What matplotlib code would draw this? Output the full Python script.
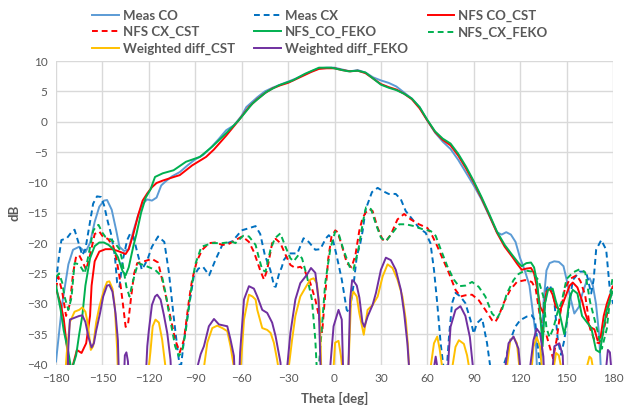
import matplotlib
matplotlib.use("Agg")
import matplotlib.pyplot as plt

# ---------------- data (theta [deg], dB) ----------------
meas_co = [(-180,-39.5),(-176,-30),(-172,-23.5),(-169,-21.1),(-165,-20.6),(-161,-21.5),(-158,-20),(-155,-16.5),
           (-152,-14),(-149,-13),(-147,-12.9),(-144,-14.5),(-141,-18),(-139,-20.6),(-136,-21.3),(-133,-21),(-130,-18),
           (-127,-15.5),(-124,-13.5),(-121,-12.8),(-118,-13.0),(-115,-12.5),(-112,-10.5),(-109,-9.8),(-105,-9.0),
           (-100,-8.3),(-95,-7.2),(-90,-6.2),(-85,-5.5),(-80,-4.3),(-75,-2.9),(-70,-1.4),(-65,-0.6),(-60,1.0),
           (-57,2.4),(-50,4.0),(-45,5.0),(-40,5.6),(-35,6.1),(-30,6.6),(-25,7.1),(-20,7.7),(-15,8.3),(-10,8.8),
           (-5,8.9),(0,8.9),(5,8.6),(10,8.3),(15,8.5),(20,8.1),(25,7.3),(30,6.8),(35,6.4),(40,5.8),(45,4.8),(50,3.8),
           (55,2.4),(60,0.2),(65,-1.8),(70,-3.3),(75,-4.5),(80,-6.3),(85,-8.4),(90,-10.5),(95,-12.8),(100,-15.5),
           (105,-18.2),(108,-18.6),(111,-18.2),(114,-18.6),(117,-19.8),(120,-22.5),(123,-24.5),(126,-27),(128,-31),
           (130,-35),(131.5,-45),(133,-45),(135,-30),(137,-24.5),(139,-23.3),(142,-23),(145,-23.1),(148,-23.8),
           (150,-26),(152,-28.5),(155,-31.6),(158,-30.5),(160,-28.5),(163,-26.2),(165,-25.8),(167,-27),(169,-30),
           (171,-35),(173,-45),(180,-45)]

meas_cx = [(-180,-26.4),(-178,-22),(-176.5,-19.5),(-173,-19.2),(-170,-18.2),(-168,-17.8),(-166,-19.5),(-163,-22),
           (-161,-21),(-158,-16.5),(-156,-13.5),(-153.5,-12.3),(-151,-12.4),(-149,-13.7),(-146.5,-16.5),(-144.5,-18.4),
           (-142,-22),(-140.5,-26.5),(-139,-27.2),(-137,-23),(-134,-19.5),(-132,-18.4),(-130,-18.9),(-127.5,-21.5),
           (-124.5,-24.4),(-121,-22.8),(-118,-20.6),(-114,-18.9),(-110,-19.8),(-107,-24.9),(-104,-32),(-101,-38.5),
           (-99.5,-41),(-97.5,-36.4),(-94,-30.4),(-91,-25.5),(-88,-24.2),(-85,-23.9),(-81,-25.3),(-77,-22.8),
           (-72.5,-20.3),(-66,-19.7),(-60,-17.9),(-56,-17.6),(-51,-17.2),(-48,-18.5),(-45,-22),(-41.5,-24.4),
           (-39,-27.1),(-38,-27.2),(-36,-25.2),(-34,-23.9),(-32.8,-22.8),(-29.6,-21.7),(-24,-21.7),(-20,-19.2),
           (-16.7,-19.8),(-12.4,-21.1),(-9.2,-21),(-5.5,-19.2),(-3.7,-18.7),(-1,-19.5),(1.5,-22.2),(4.7,-26),
           (7.9,-31),(9.6,-31.5),(12.2,-27.1),(14.4,-22.2),(16.7,-20),(18.2,-18),(20,-14.6),(21.5,-13.5),(24.2,-11.6),
           (27.9,-10.9),(31,-11.4),(35,-11.9),(39.6,-11.9),(42.9,-12.8),(46,-14.7),(50.4,-16.1),(54.6,-17.5),
           (58.9,-18.3),(62,-20),(64.3,-24.4),(66.4,-29.9),(68.6,-36.5),(70.7,-41),(72.5,-41),(74,-35.4),(76,-29.9),
           (78.2,-28.2),(81.4,-28.8),(84.6,-29.9),(87.9,-32.7),(90,-34.9),(92,-33.2),(95.4,-32.4),(98.6,-36.5),
           (101,-41),(108,-41),(110.4,-39.3),(113.6,-36),(116.8,-33.8),(120,-32.7),(124.3,-32.1),(127.5,-31.9),
           (129.6,-32.7),(131,-36),(133,-41),(135,-33),(137,-27.5),(139,-26.9),(141,-28),(142,-29.4),(144.3,-35.9),
           (146.4,-38.4),(148.5,-36),(150.7,-32.1),(154,-26.1),(158.3,-24.7),(162.6,-24.7),(165.9,-28.3),(167.5,-26),
           (169.1,-21.1),(172.4,-19.5),(175.6,-21.1),(177.8,-27.2),(180,-30)]

nfs_co_cst = [(-180,-27.5),(-177,-30),(-175,-32.5),(-173,-37),(-171,-41),(-169,-40),(-166.5,-37.6),(-163.5,-38.1),
              (-160.5,-36.5),(-158,-32),(-157,-27),(-155,-23),(-152,-21.4),(-148,-21),(-144,-21),(-140,-21.3),
              (-137,-21.6),(-135,-21.8),(-133,-21),(-130,-18.5),(-127,-15.5),(-124,-13),(-121,-11.8),(-118,-10.8),
              (-115,-10.1),(-111,-9.7),(-105,-9.2),(-100,-8.8),(-92,-7.2),(-83,-5.8),(-78,-4.6),(-70,-2.3),(-62,0.2),
              (-55,2.5),(-50,3.7),(-45,4.7),(-40,5.5),(-35,6.0),(-30,6.4),(-25,7.0),(-20,7.6),(-15,8.2),(-10,8.7),
              (-5,8.8),(0,8.8),(5,8.5),(10,8.3),(15,8.4),(20,8.0),(25,7.1),(30,6.2),(35,5.7),(40,5.3),(45,4.6),
              (50,3.7),(55,2.2),(60,0.2),(65,-1.7),(70,-3.0),(75,-3.9),(80,-5.6),(85,-7.7),(90,-10),(95,-12.6),
              (100,-15.4),(105,-18.3),(110,-20.6),(115,-22.3),(118,-23.4),(121,-24.4),(124,-24.2),(127,-24.1),
              (129,-25),(131,-27.5),(133,-30.5),(135,-31.5),(137,-28),(139,-27.5),(141,-28.5),(143,-30.5),(146,-31),
              (149,-29),(152,-27),(154,-26.5),(157,-27.3),(160,-29.5),(162,-31.5),(165,-33.8),(168,-34.2),(170,-36),
              (172,-35.5),(174,-32),(176,-30),(178,-28.5),(180,-28)]

nfs_cx_cst = [(-180,-27.5),(-178.5,-25.5),(-176,-28),(-173.5,-32),(-171,-30),(-169,-25),(-167,-22.2),(-165,-22),
              (-163,-23),(-160.5,-24.4),(-158,-22),(-155,-18.5),(-152,-18.1),(-149.5,-19),(-146.5,-19.3),(-143,-20.5),
              (-141,-22.5),(-139,-25.5),(-137,-29.5),(-135,-33.8),(-133.5,-33.5),(-131.5,-29),(-129.5,-25),
              (-127.5,-23.3),(-123,-23),(-118,-22.6),(-114,-23.2),(-111.4,-26),(-107,-31),(-103,-35.9),(-100,-38),
              (-97.3,-35.9),(-94,-29.3),(-92,-26),(-89,-23),(-85.5,-21.1),(-81,-20),(-77,-19.9),(-72.5,-20.3),
              (-68,-20.1),(-64,-19.5),(-59.6,-18.9),(-55.3,-19.8),(-52,-21.5),(-48,-24.5),(-45.6,-26),(-43.5,-24.4),
              (-40.3,-20),(-38,-19.3),(-35,-20),(-31.7,-21.9),(-28.5,-23.6),(-25.3,-24.1),(-22,-23.9),(-19,-24.7),
              (-15.6,-26.6),(-12.4,-29.3),(-9.2,-33.1),(-8,-34.8),(-6.5,-30),(-4,-22.5),(-2,-19),(0.5,-17.9),(2,-18.2),
              (4.5,-20.2),(8,-23.3),(11,-24),(13.5,-22),(16,-18),(18,-16),(20,-15),(22.5,-14.4),(24.6,-14.7),
              (27.9,-17.5),(31,-19.4),(33.2,-19.7),(36.4,-18.6),(40.7,-16.1),(45,-15.2),(49.3,-16.1),(54.6,-16.9),
              (60,-17.5),(63.2,-18.8),(66.4,-20.5),(69.6,-22.4),(73.9,-24.9),(78.2,-27.7),(81.4,-28.8),(84.6,-28.6),
              (88.9,-28.5),(93.2,-29.4),(97.5,-31),(101.8,-32.7),(103.9,-33),(106,-32.1),(109.3,-29.9),(113.6,-27.7),
              (117.9,-26.4),(123.2,-26.1),(127.5,-26.4),(130,-27.5),(132.7,-31.9),(135,-34.5),(137,-35.2),(139,-37),
              (141.3,-39),(143.5,-36),(145.7,-31.9),(148.9,-27.5),(152.2,-25.9),(156.5,-25.3),(159,-26.3),(162,-28.6),
              (165.2,-34.1),(168.5,-36.3),(171,-36.5),(173.5,-35),(176,-31.9),(179.3,-27.5),(180,-27)]

nfs_co_feko = [(-180,-27),(-177,-31),(-175,-34.4),(-172,-38),(-170,-41),(-167,-38.5),(-165,-35),(-163,-32),
               (-161,-27),(-158,-22.5),(-155,-20.5),(-152,-19.9),(-149,-19.9),(-146,-20.3),(-143,-21),(-140,-22.3),
               (-137,-24.6),(-135,-25.3),(-133,-24),(-130,-20.5),(-128,-18.5),(-125,-15),(-122,-12.5),(-119,-11.2),
               (-116,-9.1),(-111,-8.5),(-104,-8.0),(-96,-6.6),(-87,-5.8),(-79,-4.1),(-70,-1.9),(-62,0.2),(-53,3.0),
               (-44,4.9),(-36,6.0),(-27,6.8),(-19,7.9),(-10,8.9),(-2,8.9),(5,8.5),(9,8.3),(15,8.4),(20,8.1),(25,7.1),
               (30,6.1),(35,5.6),(40,5.2),(45,4.6),(50,3.8),(55,2.4),(60,0.3),(65,-1.6),(70,-2.8),(75,-3.6),(80,-5.3),
               (85,-7.4),(90,-9.8),(95,-12.4),(100,-15.2),(105,-18.1),(110,-20.3),(115,-22),(119,-23.3),(121,-23.8),
               (124,-23.3),(127,-23.2),(129,-24),(131,-26.5),(133,-32),(134.5,-37),(136,-30),(138,-27.7),(141,-27.5),
               (143,-29.5),(145.5,-31.6),(148.5,-35),(150,-33),(152,-29),(154,-27.7),(157,-28.3),(160,-32),(163,-33),
               (166,-34),(169,-37.6),(171.5,-38),(174,-34),(176,-31),(179,-28.5),(180,-28)]

nfs_cx_feko = [(-180,-25.6),(-178,-25),(-176,-26.5),(-174.5,-28.8),(-172,-31),(-170,-29),(-168,-23.3),(-165,-23.5),
               (-161.4,-25),(-159,-22),(-156,-18),(-154,-17.2),(-152.5,-17),(-150,-18.3),(-148,-19),(-144,-19.5),
               (-141,-20.3),(-139,-21),(-137.5,-22.5),(-134.5,-27.2),(-132.5,-28.8),(-130.5,-26.5),(-127,-23.3),
               (-122.5,-23.7),(-116,-24.4),(-111.5,-25.5),(-109,-28.5),(-107,-31.5),(-103,-37),(-100.6,-38.6),
               (-98.5,-37.8),(-96.3,-34.8),(-93,-28.2),(-90,-23.5),(-86,-20.6),(-79,-20),(-72.5,-20),(-66,-19.8),
               (-64,-20),(-59,-18.8),(-55.3,-18.9),(-51,-20.3),(-48.8,-22.5),(-46.7,-24.4),(-44.6,-24.7),(-41.4,-21.1),
               (-38.5,-19.2),(-35,-18.4),(-31.7,-20.6),(-28.5,-22.5),(-26.4,-23),(-23.1,-21.9),(-21,-22.5),(-17.8,-25.5),
               (-14.6,-29.3),(-12.4,-35.9),(-11.4,-41),(-10.3,-41),(-8.1,-33.7),(-6,-26.6),(-2.8,-21.1),(0.4,-18.1),
               (2.6,-18.4),(5.8,-21.1),(10.1,-24.1),(12.2,-24.4),(15.4,-21.1),(18.6,-16.2),(20.4,-14.1),(23.6,-14.4),
               (26.8,-16.9),(30,-19.1),(33.2,-19.7),(37.5,-18.3),(41.8,-16.9),(46.1,-16.9),(51.4,-17.2),(56.8,-17.7),
               (62.1,-18),(65.4,-18.8),(68.6,-21),(72.9,-23.8),(77.1,-26),(80.4,-27.1),(84.6,-27),(88.9,-26.4),
               (93.2,-27.2),(97.5,-28.8),(101.8,-31.6),(105,-32.4),(108.2,-31),(111.4,-28.3),(115.7,-26.1),
               (118.9,-25.1),(123.2,-24.5),(127.5,-24.7),(131.8,-26.1),(135,-28.8),(137,-34),(139,-35.5),(141.5,-34),
               (144,-31.5),(146.8,-29.7),(150,-25.9),(154.4,-24.8),(158.5,-24.3),(162,-24.8),(165.2,-29.7),
               (169.6,-34.1),(172.8,-37.4),(176,-34.1),(179.3,-26.4),(180,-25.5)]

wdiff_cst = [(-180,-45),(-175,-45),(-173,-38),(-171,-33),(-168,-31.3),(-165,-31),(-163,-30.6),(-161,-31.3),
             (-159.5,-33.2),(-157.5,-37.6),(-156,-37),(-154,-33),(-152,-30.5),(-149,-27.7),(-147,-26.4),(-145.5,-26.3),
             (-143.5,-27.5),(-142,-30.5),(-140.5,-37.4),(-139.5,-45),(-122,-45),(-119,-38),(-117.5,-33.7),(-115.7,-32.6),
             (-113.5,-33.1),(-111.4,-35.9),(-109.2,-40.5),(-108,-45),(-86,-45),(-84.4,-40.5),(-82.2,-36.4),(-79,-34),
             (-75.8,-33.6),(-72.5,-34),(-69.3,-34.5),(-67.2,-37),(-65,-40.5),(-64,-45),(-61.5,-45),(-60.6,-40.5),
             (-58.5,-32.6),(-55.3,-28.5),(-53,-28.8),(-51,-29.3),(-49.9,-31),(-46.7,-34),(-43.5,-34.3),(-41.3,-34.8),
             (-39.2,-36.4),(-37.1,-39.2),(-36,-41),(-35,-45),(-31,-45),(-29.6,-40.5),(-27.4,-35.9),(-25.3,-32),
             (-22.1,-28.8),(-18.9,-27.4),(-15.6,-26),(-13.5,-25.8),(-11.4,-26.6),(-9.6,-31),(-8.6,-40.5),(-8,-45),
             (-1.5,-45),(-0.6,-40.5),(0.4,-36.4),(2.6,-36.1),(4.1,-38.5),(5,-40.5),(6,-45),(8,-45),(9,-40.5),
             (10.7,-29.3),(12.2,-28),(14.4,-28.8),(16,-31.5),(18.9,-35.1),(21.4,-31),(24.6,-30.2),(27.9,-28.8),
             (31.1,-25.5),(34.3,-23.5),(37.5,-24.1),(40.7,-26),(43.9,-28.8),(46.1,-32.7),(47.5,-37),(48.2,-40.5),
             (49,-45),(61,-45),(62.1,-40.5),(64.3,-36.5),(66.4,-35.4),(68,-37.5),(69.6,-40.5),(70.5,-45),(75,-45),
             (76.1,-40.5),(78.2,-37.1),(80.4,-36),(83.6,-36.6),(85.7,-38.5),(87,-40.5),(88,-45),(110,-45),
             (111.4,-40.5),(113.6,-36),(115.7,-35.5),(117.9,-36.5),(119.5,-40.5),(120.5,-45),(126.5,-45),
             (127.5,-40.5),(128.6,-37.1),(130.7,-35.5),(132.9,-37.1),(134,-40.5),(135,-45),(141,-45),(142,-40),
             (143.2,-38.1),(145,-38.5),(146.5,-40.5),(147.5,-45),(162.5,-45),(163.5,-40),(164.8,-38.7),(166,-39),
             (167,-40.5),(168,-45),(180,-45)]

wdiff_feko = [(-180,-45),(-173,-45),(-172,-37),(-171,-32.6),(-168,-32.3),(-165,-32),(-163,-31.9),(-161,-33),
              (-159,-35.5),(-157,-37.2),(-155.5,-36.5),(-154,-34.4),(-151.5,-31.5),(-149.5,-28.8),(-147,-27),
              (-145.5,-26.9),(-143.5,-28),(-141.5,-31.6),(-140,-36),(-139,-45),(-136.5,-45),(-135.5,-38.5),
              (-134.5,-38),(-133.5,-39.5),(-132.5,-45),(-122.5,-45),(-121,-37),(-120,-34.4),(-118,-30.2),(-116,-28.8),
              (-114.6,-28.5),(-112.4,-29.3),(-110.3,-31.8),(-108.1,-34.8),(-106,-39.2),(-105,-45),(-89.5,-45),
              (-88.7,-40.5),(-86.5,-38.3),(-84.4,-37),(-81.2,-33.7),(-77.9,-32.5),(-74.7,-33.4),(-69.3,-33.7),
              (-67.2,-35.9),(-65,-38.6),(-64,-45),(-62,-45),(-61,-38),(-58.5,-29.3),(-55.3,-27.1),(-52.1,-27.5),
              (-49.9,-28.8),(-46.7,-31),(-43.5,-31.5),(-40.3,-33.1),(-38.1,-35.3),(-34.9,-39.7),(-34,-45),
              (-31.5,-45),(-30.6,-40.5),(-28.5,-34.8),(-25.3,-29.3),(-22.1,-26.6),(-17.8,-25.2),(-15.2,-24.1),
              (-12.4,-24.9),(-10.3,-29.3),(-9,-40.5),(-8.5,-45),(-3.5,-45),(-2.8,-40.5),(-0.6,-33.7),(2.6,-31),
              (4.7,-32.6),(5.5,-40.5),(6,-45),(8.5,-45),(9,-40.5),(10.1,-29.3),(11.4,-26.1),(12.5,-26.3),(14.4,-27),
              (16.1,-29),(18,-33),(19.3,-33.8),(21.4,-32.1),(24.6,-30.2),(26.8,-28.2),(30,-24.4),(33.2,-22.4),
              (36.4,-22.8),(39.6,-24.4),(42.9,-27.7),(45,-31.5),(47.1,-36.5),(48.2,-40.5),(49,-45),(63.5,-45),
              (64.3,-40.5),(65.4,-38.7),(66.5,-40.5),(67,-45),(72.5,-45),(73.9,-38),(75,-33.8),(78.2,-31),
              (81.4,-30.4),(84.6,-32),(87.5,-35.5),(89.5,-40.5),(90.5,-45),(109,-45),(110.4,-40.5),(112.5,-36.5),
              (115.7,-35.4),(118.9,-37.4),(120,-40.5),(121,-45),(125.5,-45),(126.4,-40.5),(128.6,-36),(130.7,-34.1),
              (132.9,-34.9),(135,-38.7),(136,-45),(140.5,-45),(141,-40.5),(142.1,-37),(145.3,-36.5),(147.5,-38.5),
              (148.5,-45),(175,-45),(175.6,-40.5),(176.7,-37.6),(178,-38),(178.8,-40.5),(179.5,-45),(180,-45)]

series_names = ["Meas CO", "Meas CX", "NFS CO_CST", "NFS CX_CST", "NFS_CO_FEKO", "NFS_CX_FEKO",
                "Weighted diff_CST", "Weighted diff_FEKO"]
series_data = [meas_co, meas_cx, nfs_co_cst, nfs_cx_cst, nfs_co_feko, nfs_cx_feko, wdiff_cst, wdiff_feko]
x_ticks = list(range(-180, 181, 30))
y_ticks = list(range(-40, 11, 5))

# ---------------- style ----------------
colors = ["#5B9BD5", "#0070C0", "#FF0000", "#FF0000", "#00B050", "#00B050", "#FFC000", "#7030A0"]
dashed = [False, True, False, True, False, True, False, False]

plt.rcParams['font.family'] = ['Lato', 'DejaVu Sans']
TXT = "#595959"

fig = plt.figure(figsize=(6.34, 4.08), dpi=100)
ax = fig.add_axes([56/634, 1 - 364.5/408, (613-56)/634, (364.5-61)/408])

handles = []
for name, data, c, d in zip(series_names, series_data, colors, dashed):
    xs = [p[0] for p in data]
    ys = [p[1] for p in data]
    ln, = ax.plot(xs, ys, color=c, lw=1.4, label=name, solid_joinstyle='round')
    if d:
        ln.set_linestyle((0, (3, 2)))
    handles.append(ln)

ax.set_xlim(-180, 180)
ax.set_ylim(-40, 10)
ax.set_xticks(x_ticks)
ax.set_yticks(y_ticks)
ax.grid(True, color="#D9D9D9", lw=1.0)
ax.set_axisbelow(True)
for s in ax.spines.values():
    s.set_visible(False)
ax.tick_params(length=0, labelsize=8.5, labelcolor=TXT, pad=6)
ax.set_xlabel("Theta [deg]", fontsize=9.5, fontweight='bold', color=TXT, labelpad=6)
ax.set_ylabel("dB", fontsize=9.5, fontweight='bold', color=TXT, labelpad=5)

order = [0, 3, 6, 1, 4, 7, 2, 5]
leg = fig.legend([handles[i] for i in order], [series_names[i] for i in order],
                 loc='upper center', bbox_to_anchor=(0.505, 1.0), ncol=3, frameon=False,
                 prop={'size': 9.5, 'weight': 'bold'}, handlelength=2.0, handletextpad=0.3,
                 columnspacing=1.5, labelspacing=0.32, borderaxespad=0.35)
for t in leg.get_texts():
    t.set_color(TXT)

fig.savefig("out.png", dpi=100)
